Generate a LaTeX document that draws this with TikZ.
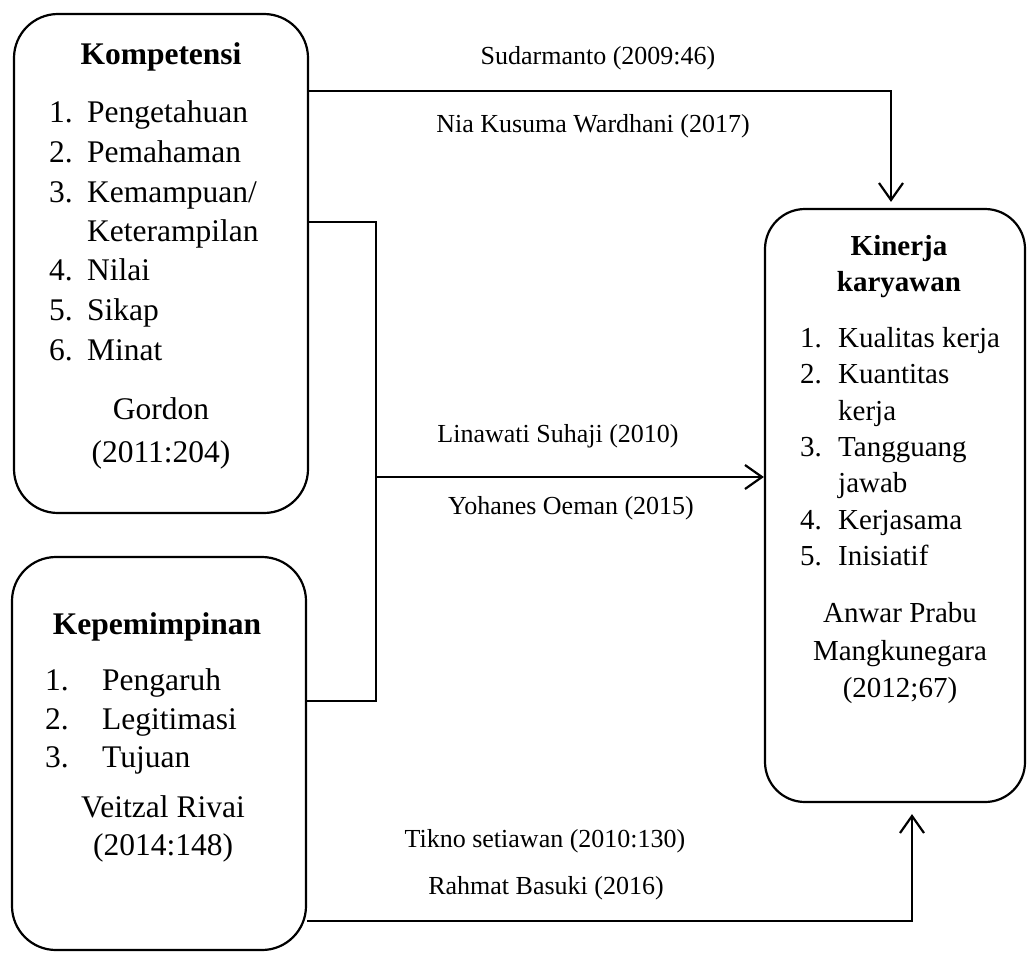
\documentclass[tikz,border=0pt]{standalone}
\usepackage{fontspec}
\setmainfont{Liberation Serif}
\usetikzlibrary{arrows.meta}

\tikzset{
  box/.style={draw, line width=2.2pt, rounded corners=44pt, inner sep=0pt},
  conn/.style={line width=2.2pt},
  item/.style={anchor=mid west, inner sep=0pt, font=\fontsize{31.5}{38}\selectfont},
  smallitem/.style={anchor=mid west, inner sep=0pt, font=\fontsize{29}{35}\selectfont},
  line/.style={anchor=mid, inner sep=0pt, font=\fontsize{31.5}{38}\selectfont},
  smallline/.style={anchor=mid, inner sep=0pt, font=\fontsize{29}{35}\selectfont},
  lbl/.style={anchor=mid, inner sep=0pt, font=\fontsize{26}{30}\selectfont}
}

\begin{document}
\begin{tikzpicture}[x=1pt, y=-1pt, >={Straight Barb[length=17pt,width=24pt]}]
  \useasboundingbox (0,0) rectangle (1027,953);

  % Boxes
  \node[box, minimum width=294pt, minimum height=499pt] (komp) at (161,263.5) {};
  \node[box, minimum width=294pt, minimum height=393pt] (kep) at (159,753.5) {};
  \node[box, minimum width=260pt, minimum height=593pt, rounded corners=40pt] (kin) at (895,505.5) {};

  % Kompetensi
  \node[line, font=\fontsize{31.5}{38}\selectfont\bfseries] (komp-t) at (161,62) {Kompetensi};
  \foreach \n/\t/\y [count=\i] in {1./Pengetahuan/120, 2./Pemahaman/160, 3./{Kemampuan/}/200,
      /Keterampilan/239, 4./Nilai/278, 5./Sikap/318, 6./Minat/358}
  \node[item] (komp-\i) at (49,\y) {\makebox[38pt][l]{\n}\t};
  \node[line] (komp-s1) at (161,417) {Gordon};
  \node[line] (komp-s2) at (161,460) {(2011:204)};

  % Kepemimpinan
  \node[line, font=\fontsize{31.5}{38}\selectfont\bfseries] (kep-t) at (157,632) {Kepemimpinan};
  \foreach \n/\t/\y [count=\i] in {1./Pengaruh/688, 2./Legitimasi/727, 3./Tujuan/765}
  \node[item] (kep-\i) at (45,\y) {\makebox[57pt][l]{\n}\t};
  \node[line] (kep-s1) at (163,815) {Veitzal Rivai};
  \node[line] (kep-s2) at (163,853) {(2014:148)};

  % Kinerja karyawan
  \node[smallline, font=\fontsize{29}{35}\selectfont\bfseries] (kin-t1) at (899,253) {Kinerja};
  \node[smallline, font=\fontsize{29}{35}\selectfont\bfseries] (kin-t2) at (899,289) {karyawan};
  \foreach \n/\t/\y [count=\i] in {1./Kualitas kerja/345, 2./Kuantitas/381, /kerja/418,
      3./Tangguang/454, /jawab/490, 4./Kerjasama/527, 5./Inisiatif/563}
  \node[smallitem] (kin-\i) at (800,\y) {\makebox[38pt][l]{\n}\t};
  \node[smallline] (kin-s1) at (900,620) {Anwar Prabu};
  \node[smallline] (kin-s2) at (900,658) {Mangkunegara};
  \node[smallline] (kin-s3) at (900,695) {(2012;67)};

  % Connections
  \draw[conn, ->, shorten >=6pt] ([yshift=-78pt]komp.north east) -| ([xshift=-4pt]kin.north);
  \coordinate (join) at (376,477);
  \draw[conn] ([yshift=-209pt]komp.north east) -| (join) |- ([yshift=-145pt]kep.north east);
  \draw[conn, ->] (join) -- (join -| kin.west);
  \draw[conn, ->, shorten >=11pt] ([yshift=-365pt]kep.north east) -| ([xshift=17pt]kin.south);

  % Labels
  \node[lbl] (l-sud) at (598,62) {Sudarmanto (2009:46)};
  \node[lbl] (l-nia) at (593,130) {Nia Kusuma Wardhani (2017)};
  \node[lbl] (l-lin) at (558,440) {Linawati Suhaji (2010)};
  \node[lbl] (l-yoh) at (571,512) {Yohanes Oeman (2015)};
  \node[lbl] (l-tik) at (545,845) {Tikno setiawan (2010:130)};
  \node[lbl] (l-rah) at (546,892) {Rahmat Basuki (2016)};

\end{tikzpicture}
\end{document}
